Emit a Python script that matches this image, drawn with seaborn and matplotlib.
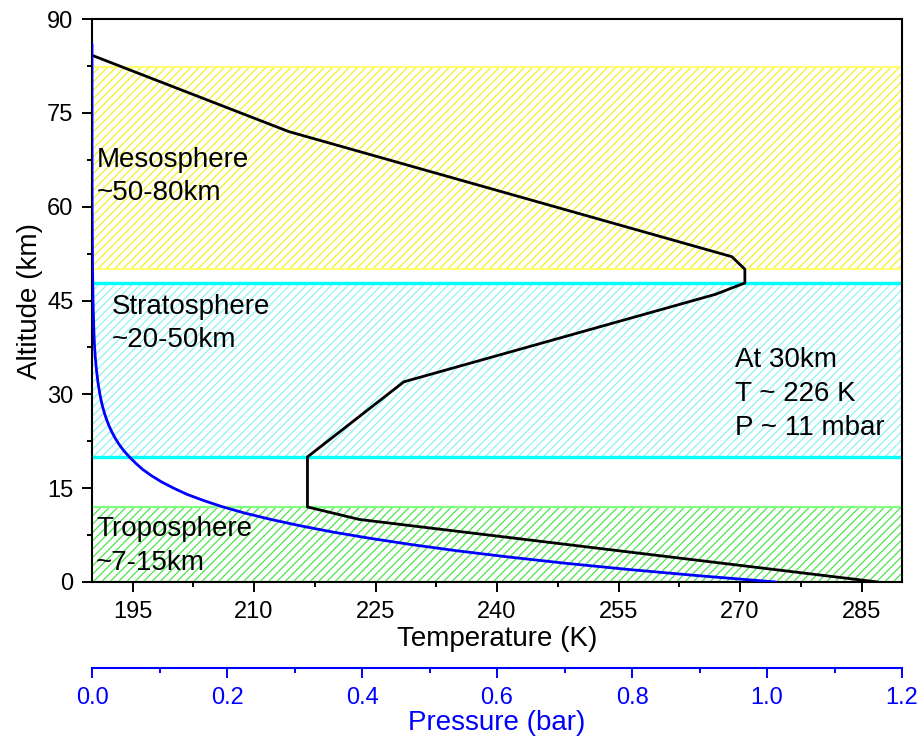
import numpy as np
import pandas as pd
import matplotlib
matplotlib.use("Agg")
import matplotlib.pyplot as plt
from matplotlib.ticker import MultipleLocator
import seaborn as sns

# ---- data ----
temp_alt = [0, 10, 12, 20, 32, 46, 47.8, 50, 52, 72, 84.2]
temp_K = [287, 223, 216.6, 216.6, 228.5, 267, 270.6, 270.6, 269, 214.3, 190]

pres_alt = [0, 1, 2, 3, 4, 5, 6, 7, 8, 9, 10, 11, 12, 13, 14, 15, 16, 17, 18, 19,
            20, 21, 22, 23, 24, 25, 26, 27, 28, 29, 30, 32, 34, 36, 38, 40, 45,
            50, 60, 70, 80, 86]
pres_bar = [1.013, 0.899, 0.795, 0.701, 0.617, 0.540, 0.472, 0.411, 0.356, 0.308,
            0.265, 0.227, 0.194, 0.166, 0.141, 0.121, 0.103, 0.088, 0.075, 0.0647,
            0.0553, 0.0470, 0.0401, 0.0343, 0.0293, 0.0251, 0.0215, 0.0184,
            0.0158, 0.0136, 0.0117, 0.0087, 0.0065, 0.0048, 0.0036, 0.0028,
            0.0015, 0.0008, 0.0002, 0.00005, 0.00001, 0.000004]

layers = ["Mesosphere\n~50-80km", "Stratosphere\n~20-50km", "Troposphere\n~7-15km"]
layer_bottom = [50, 20, 0]
layer_top = [82.3, 47.8, 12]
note = "At 30km\nT ~ 226 K\nP ~ 11 mbar"

temp_ticks = [195, 210, 225, 240, 255, 270, 285]
alt_ticks = [0, 15, 30, 45, 60, 75, 90]
pres_ticks = [0.0, 0.2, 0.4, 0.6, 0.8, 1.0, 1.2]

sns.set_theme(style="ticks")
plt.rcParams["font.family"] = ["Liberation Sans", "DejaVu Sans"]
plt.rcParams["hatch.linewidth"] = 0.9
for k in ["text.color", "axes.labelcolor", "xtick.color", "ytick.color"]:
    plt.rcParams[k] = "black"

fig = plt.figure(figsize=(9.22, 7.45), dpi=100)
ax = fig.add_axes([92 / 922, 1 - 582 / 745, 810 / 922, 563 / 745])

# layer bands
hatch_cols = ["#f2f226", "#8ff2f2", "#4ee44e"]
edge_cols = ["#ffff70", "#00ffff", "#80ff80"]
edge_lw = [1.5, 2.4, 1.6]
for b, t, hc, ec, lw in zip(layer_bottom, layer_top, hatch_cols, edge_cols, edge_lw):
    ax.axhspan(b, t, facecolor="none", edgecolor=hc, hatch="////", linewidth=0, zorder=1)
    ax.axhline(b, color=ec, lw=lw, zorder=1.5)
    ax.axhline(t, color=ec, lw=lw, zorder=1.5)

df_t = pd.DataFrame({"T": temp_K, "alt": temp_alt})
sns.lineplot(data=df_t, x="T", y="alt", sort=False, estimator=None,
             color="black", lw=2.0, ax=ax, zorder=3)

ax.set_xlim(190, 290)
ax.set_ylim(0, 90)
ax.set_xticks(temp_ticks)
ax.set_yticks(alt_ticks)
ax.xaxis.set_minor_locator(MultipleLocator(7.5))
ax.yaxis.set_minor_locator(MultipleLocator(7.5))
ax.tick_params(which="major", length=7.5, width=1.4, labelsize=17, colors="black",
               pad=6)
ax.tick_params(which="minor", length=3.8, width=1.4)
ax.tick_params(axis="x", which="both", top=False, bottom=True, direction="out")
ax.tick_params(axis="y", which="both", left=True, right=False, direction="out")
for s in ax.spines.values():
    s.set_visible(True)
    s.set_linewidth(1.5)
    s.set_color("black")
ax.set_xlabel("Temperature (K)", fontsize=20, labelpad=2)
ax.set_ylabel("Altitude (km)", fontsize=20, labelpad=3)

txt_x = [190.6, 192.4, 190.5]
txt_y = [69.6, 46.1, 10.5]
for lab, x, y in zip(layers, txt_x, txt_y):
    ax.text(x, y, lab, fontsize=20, va="top", ha="left", linespacing=1.36, zorder=4)
ax.text(269.4, 37.5, note, fontsize=20, va="top", ha="left", linespacing=1.38, zorder=4)

# pressure axis
ax2 = ax.twiny()
df_p = pd.DataFrame({"P": pres_bar, "alt": pres_alt})
sns.lineplot(data=df_p, x="P", y="alt", sort=False, estimator=None,
             color="#0000ff", lw=2.0, ax=ax2, zorder=3)
ax2.set_xlim(0, 1.2)
ax2.set_ylim(0, 90)
ax2.set_ylabel("")
ax2.xaxis.set_ticks_position("bottom")
ax2.xaxis.set_label_position("bottom")
ax2.spines["bottom"].set_position(("outward", 62))
for k in ["top", "left", "right"]:
    ax2.spines[k].set_visible(False)
ax2.spines["bottom"].set_color("#0000ff")
ax2.spines["bottom"].set_linewidth(1.5)
ax2.set_xticks(pres_ticks)
ax2.set_xticklabels([f"{v:.1f}" for v in pres_ticks])
ax2.xaxis.set_minor_locator(MultipleLocator(0.1))
ax2.tick_params(axis="x", which="major", length=7.5, width=1.4, colors="#0000ff",
                labelsize=17, pad=6, direction="out")
ax2.tick_params(axis="x", which="minor", length=3.8, width=1.4, colors="#0000ff",
                direction="out")
ax2.set_xlabel("Pressure (bar)", fontsize=20, color="#0000ff", labelpad=1)

fig.savefig("out.png", dpi=100)
